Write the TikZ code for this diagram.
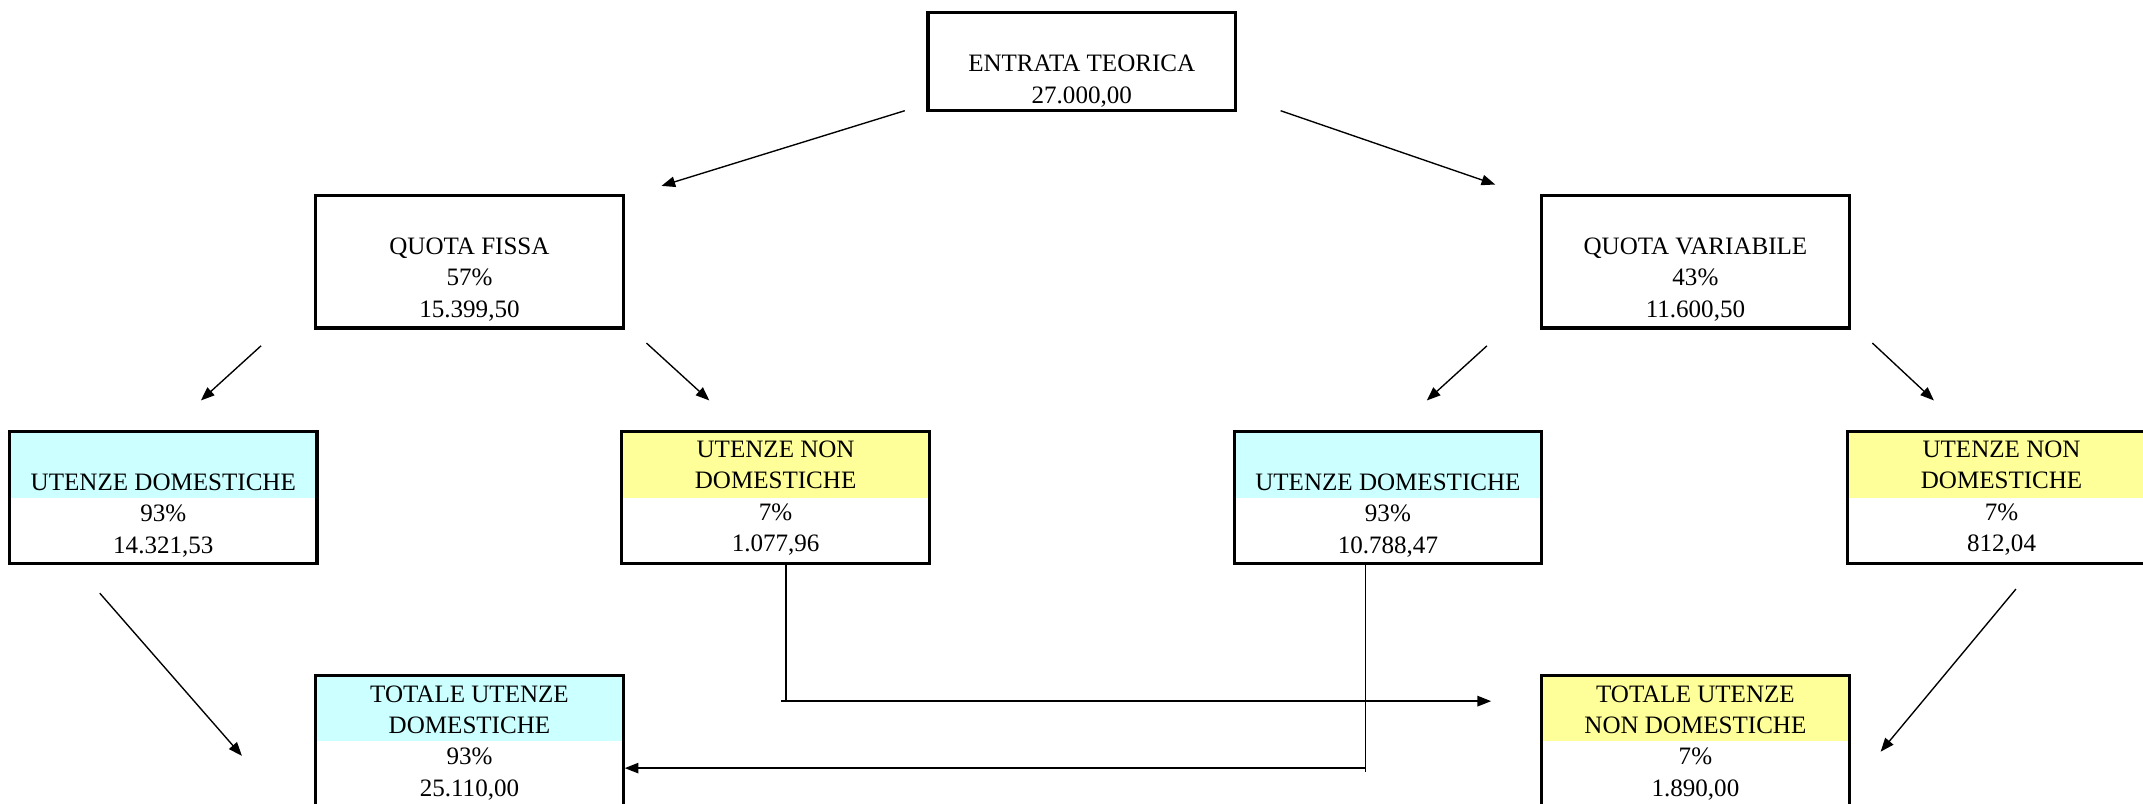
\documentclass[tikz,border=0pt]{standalone}
\usepackage{fontspec}
\setmainfont{Liberation Serif}
\usetikzlibrary{arrows.meta}
\definecolor{cyanfill}{HTML}{CCFFFF}
\definecolor{yelfill}{HTML}{FFFF99}
\begin{document}
\begin{tikzpicture}[x=0.6pt,y=-0.6pt,
 box/.style={draw, line width=1.4pt, minimum width=135pt, minimum height=57.6pt, inner sep=0pt},
 txt/.style={align=center, font=\fontsize{11}{13.8}\selectfont, inner sep=0pt},
 arr/.style={line width=0.6pt, -{Triangle[length=6pt,width=4.6pt]}},
 ln/.style={line width=0.6pt}]
\clip (0,0) rectangle (1568,588);
\fill[white] (0,0) rectangle (1568,588);
% header bands
\fill[cyanfill] (7,316) rectangle (232,364);
\fill[yelfill] (455,316) rectangle (680,364);
\fill[cyanfill] (903,316) rectangle (1128,364);
\fill[yelfill] (1352,316) rectangle (1577,364);
\fill[cyanfill] (231,494) rectangle (456,542);
\fill[yelfill] (1128,494) rectangle (1353,542);
% boxes
\node[box, minimum height=43.2pt] (et) at (791.5,45) {};
\node[box, minimum height=58.2pt] (qf) at (343.5,191.5) {};
\node[box, minimum height=58.2pt] (qv) at (1240.5,191.5) {};
\node[box] (ud1) at (119.5,364) {};
\node[box] (und1) at (567.5,364) {};
\node[box] (ud2) at (1015.5,364) {};
\node[box] (und2) at (1464.5,364) {};
\node[box] (tud) at (343.5,542) {};
\node[box] (tund) at (1240.5,542) {};
% texts
\node[txt] (ett) at (791.5,59.5) {ENTRATA TEORICA\\27.000,00};
\node[txt] (qft) at (343.5,204.5) {QUOTA FISSA\\57\%\\15.399,50};
\node[txt] (qvt) at (1240.5,204.5) {QUOTA VARIABILE\\43\%\\11.600,50};
\node[txt] (ud1t) at (119.5,377) {UTENZE DOMESTICHE\\93\%\\14.321,53};
\node[txt] (und1t) at (567.5,364.5) {UTENZE NON\\DOMESTICHE\\7\%\\1.077,96};
\node[txt] (ud2t) at (1015.5,377) {UTENZE DOMESTICHE\\93\%\\10.788,47};
\node[txt] (und2t) at (1464.5,364.5) {UTENZE NON\\DOMESTICHE\\7\%\\812,04};
\node[txt] (tudt) at (343.5,543.5) {TOTALE UTENZE\\DOMESTICHE\\93\%\\25.110,00};
\node[txt] (tundt) at (1240.5,543.5) {TOTALE UTENZE\\NON DOMESTICHE\\7\%\\1.890,00};
% connector end points
\coordinate (a1s) at (662,81);  \coordinate (a1e) at (484,136);
\coordinate (a2s) at (937,81);  \coordinate (a2e) at (1094,135);
\coordinate (b1s) at (191,253); \coordinate (b1e) at (147,293);
\coordinate (b2s) at (473,251); \coordinate (b2e) at (519,293);
\coordinate (c1s) at (1088,253); \coordinate (c1e) at (1044,293);
\coordinate (c2s) at (1370,251); \coordinate (c2e) at (1415,293);
\coordinate (d1s) at (73,434);  \coordinate (d1e) at (177,553);
\coordinate (d2s) at (1475,431); \coordinate (d2e) at (1376,550);
\coordinate (e1s) at (575,412); \coordinate (e1c) at (575,513); \coordinate (e1e) at (1091,513);
\coordinate (f1s) at (999,412); \coordinate (f1c) at (999,562); \coordinate (f1x) at (999,565);
% connectors
\draw[arr] (a1s) -- (a1e);
\draw[arr] (a2s) -- (a2e);
\draw[arr] (b1s) -- (b1e);
\draw[arr] (b2s) -- (b2e);
\draw[arr] (c1s) -- (c1e);
\draw[arr] (c2s) -- (c2e);
\draw[arr] (d1s) -- (d1e);
\draw[arr] (d2s) -- (d2e);
\draw[ln] (e1s) -- (e1c);
\draw[arr] ([xshift=-2]e1c) -- (e1e);
\draw[ln] (f1s) -- (f1x);
\draw[arr] (f1c) -- (f1c -| tud.east);
\end{tikzpicture}
\end{document}
